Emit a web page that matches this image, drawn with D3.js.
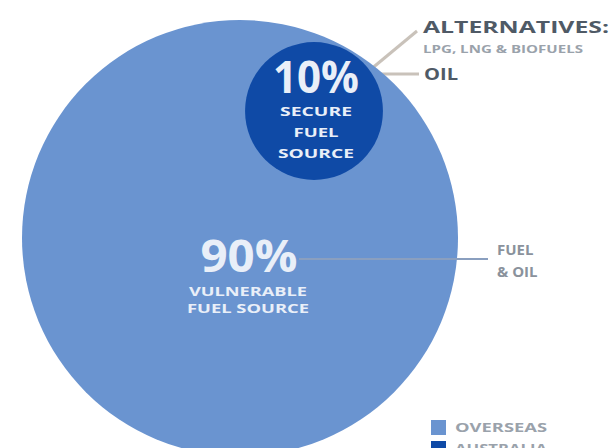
<!DOCTYPE html>
<html>
<head>
<meta charset="utf-8">
<script src="https://cdn.jsdelivr.net/npm/d3@7"></script>
<style>
  body { margin: 0; background: #fff; }
  svg { display: block; }
  text { font-family: "Open Sans", "DejaVu Sans", sans-serif; font-weight: 700; }
</style>
</head>
<body>
<div id="chart"></div>
<script>
// fuel source share (%)
const categories = ["OVERSEAS", "AUSTRALIA"];
const shares = [90, 10];
const shareLabels = [["VULNERABLE", "FUEL SOURCE"], ["SECURE", "FUEL", "SOURCE"]];
const calloutTitles = ["FUEL", "& OIL"];
const altTitle = "ALTERNATIVES:";
const altSub = "LPG, LNG & BIOFUELS";
const oilTitle = "OIL";

const width = 611, height = 448;

const svg = d3.select("#chart").append("svg")
  .attr("width", width)
  .attr("height", height);

const color = d3.scaleOrdinal()
  .domain(categories)
  .range(["#6a94d0", "#0f4aa6"]);

// area ~ share, big bubble holds the total
const rScale = d3.scaleSqrt()
  .domain([0, d3.sum(shares)])
  .range([0, 218]);

const bubbles = [
  { key: categories[0], value: shares[0], r: rScale(d3.sum(shares)), cx: 240, cy: 238 },
  { key: categories[1], value: shares[1], r: rScale(shares[1]), cx: 314, cy: 111 }
];

// leader lines to the alternatives / oil labels (under the bubbles)
const lineColor = "#c9c2ba";
svg.append("line")
  .attr("x1", 370).attr("y1", 70).attr("x2", 417).attr("y2", 31)
  .attr("stroke", lineColor).attr("stroke-width", 3);
svg.append("line")
  .attr("x1", 378).attr("y1", 74).attr("x2", 419).attr("y2", 74)
  .attr("stroke", lineColor).attr("stroke-width", 3);

svg.selectAll("circle.bubble")
  .data(bubbles)
  .enter().append("circle")
  .attr("class", "bubble")
  .attr("cx", d => d.cx)
  .attr("cy", d => d.cy)
  .attr("r", d => d.r)
  .attr("fill", d => color(d.key));

// 90% callout line
svg.append("line")
  .attr("x1", 299).attr("y1", 259).attr("x2", 488).attr("y2", 259)
  .attr("stroke", "#8a9fbf").attr("stroke-width", 2);

const txtFill = "#e9eff8";

// big bubble text
svg.append("text")
  .attr("x", 249).attr("y", 272)
  .attr("text-anchor", "middle")
  .attr("font-size", 44)
  .attr("textLength", 97).attr("lengthAdjust", "spacingAndGlyphs")
  .attr("fill", txtFill)
  .text(d3.format(".0%")(shares[0] / 100));

[[296, 118], [313, 122]].forEach(([y, w], i) => {
  svg.append("text")
    .attr("x", 248).attr("y", y)
    .attr("text-anchor", "middle")
    .attr("font-size", 12.5)
    .attr("textLength", w).attr("lengthAdjust", "spacingAndGlyphs")
    .attr("fill", txtFill)
    .text(shareLabels[0][i]);
});

// small bubble text
svg.append("text")
  .attr("x", 316).attr("y", 93)
  .attr("text-anchor", "middle")
  .attr("font-size", 44)
  .attr("textLength", 86).attr("lengthAdjust", "spacingAndGlyphs")
  .attr("fill", txtFill)
  .text(d3.format(".0%")(shares[1] / 100));

[[116, 72], [137, 45], [158, 76]].forEach(([y, w], i) => {
  svg.append("text")
    .attr("x", 316).attr("y", y)
    .attr("text-anchor", "middle")
    .attr("font-size", 12.5)
    .attr("textLength", w).attr("lengthAdjust", "spacingAndGlyphs")
    .attr("fill", txtFill)
    .text(shareLabels[1][i]);
});

// right side labels
const labelFill = "#4f5a66";
svg.append("text")
  .attr("x", 423).attr("y", 33)
  .attr("font-size", 16)
  .attr("textLength", 186).attr("lengthAdjust", "spacingAndGlyphs")
  .attr("fill", labelFill)
  .text(altTitle);
svg.append("text")
  .attr("x", 423).attr("y", 53)
  .attr("font-size", 11).attr("font-weight", 400)
  .attr("textLength", 160).attr("lengthAdjust", "spacingAndGlyphs")
  .attr("fill", "#9aa2ab")
  .text(altSub);
svg.append("text")
  .attr("x", 424).attr("y", 80)
  .attr("font-size", 16)
  .attr("textLength", 34).attr("lengthAdjust", "spacingAndGlyphs")
  .attr("fill", labelFill)
  .text(oilTitle);

calloutTitles.forEach((t, i) => {
  svg.append("text")
    .attr("x", 497).attr("y", 255 + i * 22)
    .attr("font-size", 15).attr("font-weight", 600)
    .attr("fill", "#8a929c")
    .text(t);
});

// legend (second row runs off the bottom, as in the original)
const legend = svg.append("g").attr("transform", "translate(431,420)");
const item = legend.selectAll("g")
  .data(categories)
  .enter().append("g")
  .attr("transform", (d, i) => `translate(0,${i * 21})`);
item.append("rect")
  .attr("width", 15).attr("height", 15)
  .attr("fill", d => color(d));
item.append("text")
  .attr("x", 24).attr("y", 12)
  .attr("font-size", 12).attr("font-weight", 600)
  .attr("textLength", 92).attr("lengthAdjust", "spacingAndGlyphs")
  .attr("fill", "#9aa2ab")
  .text(d => d);
</script>
</body>
</html>
